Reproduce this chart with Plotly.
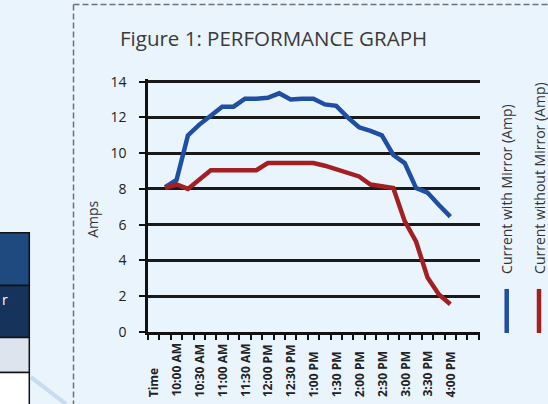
import plotly.graph_objects as go

# ---- data ----
time_labels = ["Time", "", "10:00 AM", "", "10:30 AM", "", "11:00 AM", "", "11:30 AM", "",
               "12:00 PM", "", "12:30 PM", "", "1:00 PM", "", "1:30 PM", "", "2:00 PM", "",
               "2:30 PM", "", "3:00 PM", "", "3:30 PM", "", "4:00 PM", "", ""]
positions = list(range(len(time_labels)))
with_mirror = [None, 8.1, 8.5, 11.0, 11.6, 12.1, 12.6, 12.6, 13.05, 13.05,
               13.1, 13.35, 13.0, 13.05, 13.05, 12.73, 12.65, 12.0, 11.45, 11.25,
               11.0, 9.9, 9.45, 8.05, 7.8, 7.1, 6.45, None, None]
without_mirror = [None, 8.05, 8.25, 8.0, 8.55, 9.05, 9.05, 9.05, 9.05, 9.05,
                  9.45, 9.45, 9.45, 9.45, 9.45, 9.3, 9.1, 8.9, 8.7, 8.25,
                  8.15, 8.05, 6.2, 5.05, 3.05, 2.1, 1.55, None, None]
series_names = ["Current with Mirror (Amp)", "Current without Mirror (Amp)"]
series_colors = ["#1f4fa2", "#a21f22"]
y_ticks = [0, 2, 4, 6, 8, 10, 12, 14]

W, H = 548, 404
Y_TOP = 14.15
UNIT = 250 / 14.0
L, R, B = 148, 68, 72
T = round(H - B - Y_TOP * UNIT, 2)
pw, ph = W - L - R, H - T - B


def px(x):
    return (x - L) / pw


def py(y):
    return (H - B - y) / ph


BG = "#eaf4fd"
FONT = "Open Sans"

fig = go.Figure()
for vals, name, col in zip([with_mirror, without_mirror], series_names, series_colors):
    fig.add_trace(go.Scatter(x=positions, y=vals, mode="lines", name=name,
                             line=dict(color=col, width=4.5), connectgaps=False,
                             showlegend=False, hoverinfo="skip"))

annotations = []
# x category labels (bottom aligned like the original)
for pos, lab in zip(positions, time_labels):
    if lab:
        annotations.append(dict(x=pos, xref="x", y=py(399), yref="paper", text=f"<b>{lab}</b>",
                                textangle=-90, xanchor="center", yanchor="bottom", showarrow=False,
                                font=dict(family=FONT, size=12, color="#222222")))
# y-axis title
annotations.append(dict(x=px(93), y=py(220), xref="paper", yref="paper", text="Amps",
                        textangle=-90, showarrow=False, xanchor="center", yanchor="middle",
                        font=dict(family=FONT, size=14, color="#333333")))
# legend texts
for name, xc in zip(series_names, [507, 540]):
    annotations.append(dict(x=px(xc), y=py(276), xref="paper", yref="paper", text=name,
                            textangle=-90, showarrow=False, xanchor="center", yanchor="bottom",
                            font=dict(family=FONT, size=14, color="#333333")))
# table fragment text
annotations.append(dict(x=px(0), y=py(300), xref="paper", yref="paper", text="r",
                        showarrow=False, xanchor="left", yanchor="middle",
                        font=dict(family=FONT, size=14, color="#ffffff")))

shapes = []
# legend samples
for col, xc in zip(series_colors, [506.7, 539]):
    shapes.append(dict(type="line", xref="paper", yref="paper", x0=px(xc), x1=px(xc),
                       y0=py(289), y1=py(333), line=dict(color=col, width=4.5)))
# dashed frame
dash_line = dict(color="#707070", width=1.5, dash="6px,3px")
shapes.append(dict(type="line", xref="paper", yref="paper", x0=px(73.5), x1=px(73.5),
                   y0=py(5), y1=py(404), line=dash_line))
shapes.append(dict(type="line", xref="paper", yref="paper", x0=px(73.5), x1=px(548),
                   y0=py(5), y1=py(5), line=dash_line))
# faint decorative stripe
shapes.append(dict(type="line", xref="paper", yref="paper", x0=px(31), x1=px(66),
                   y0=py(377), y1=py(404), line=dict(color="#c8dbf2", width=4)))
# table fragment
rows = [(233, 285.5, "#1f4a80"), (285.5, 337.5, "#16335c"), (337.5, 372.5, "#dde4ee"), (372.5, 406, "#ffffff")]
for y0, y1, c in rows:
    shapes.append(dict(type="rect", xref="paper", yref="paper", x0=px(-5), x1=px(29.3),
                       y0=py(y0), y1=py(y1), fillcolor=c, line=dict(color="#111111", width=1.5)))

fig.update_layout(
    width=W, height=H,
    margin=dict(l=L, r=R, t=T, b=B, autoexpand=False),
    paper_bgcolor=BG, plot_bgcolor=BG,
    title=dict(text="Figure 1: PERFORMANCE GRAPH", x=120 / W, xanchor="left", xref="container",
               y=1 - 39 / H, yanchor="middle", yref="container",
               font=dict(family=FONT, size=20.5, color="#3a3a3a")),
    annotations=annotations, shapes=shapes,
    xaxis=dict(range=[-0.5, 28.6], tickmode="array", tickvals=[p - 0.5 for p in positions] + [28.5],
               showticklabels=False, ticks="outside", ticklen=5, tickwidth=2, tickcolor="#111111",
               showline=True, linecolor="#111111", linewidth=3, showgrid=False, zeroline=False),
    yaxis=dict(range=[0, Y_TOP], tickmode="array", tickvals=y_ticks,
               ticktext=[str(v) for v in y_ticks], ticks="outside", ticklen=6, tickwidth=2,
               tickcolor="#111111", showline=True, linecolor="#111111", linewidth=2.5,
               showgrid=True, gridcolor="#1a1a1a", gridwidth=2.5, zeroline=False,
               ticklabelstandoff=10, tickfont=dict(family=FONT, size=14, color="#222222")),
)

fig.write_html("out.html", config={"displayModeBar": False},
               post_script="document.body.style.margin='0px';")
